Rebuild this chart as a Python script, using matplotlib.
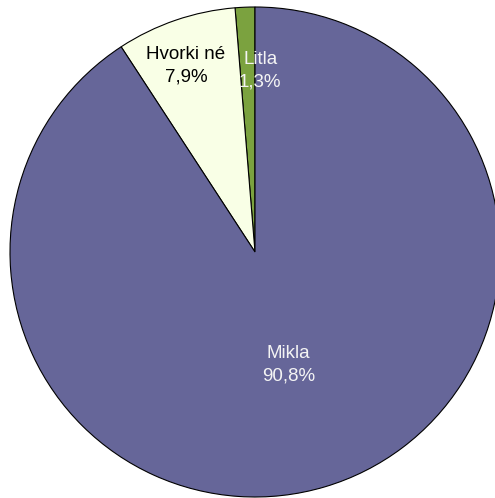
import numpy as np
from matplotlib import pyplot as plt

labels = ['Litla', 'Hvorki né', 'Mikla']
values = [1.3, 7.9, 90.8]
colors = ['#7ba23f', '#f9ffe6', '#666699']
text_colors = ['#f4f4f4', 'black', '#f4f4f4']
# label placement: fraction of radius and angle nudge in degrees
label_radius = [0.74, 0.81, 0.48]
label_nudge = [-4.0, 1.5, 0.0]

plt.rcParams['font.family'] = ['Liberation Sans', 'DejaVu Sans']

fig = plt.figure(figsize=(4.95, 4.98), dpi=100)
ax = fig.add_axes([10/495, 1/498, 490/495, 490/498])
wedges, _ = ax.pie(values, colors=colors, startangle=90, counterclock=True,
				   wedgeprops=dict(edgecolor='black', linewidth=0.8))
ax.set_xlim(-1, 1)
ax.set_ylim(-1, 1)
ax.set_aspect('equal')
ax.axis('off')

for w, lab, v, tc, r, nd in zip(wedges, labels, values, text_colors, label_radius, label_nudge):
	mid = np.deg2rad((w.theta1 + w.theta2) / 2 + nd)
	txt = f"{lab}\n{v:.1f}%".replace('.', ',')
	ax.text(r*np.cos(mid), r*np.sin(mid), txt, ha='center', va='center',
			color=tc, fontsize=13.5, linespacing=1.45)

fig.savefig('out.png', dpi=100)
